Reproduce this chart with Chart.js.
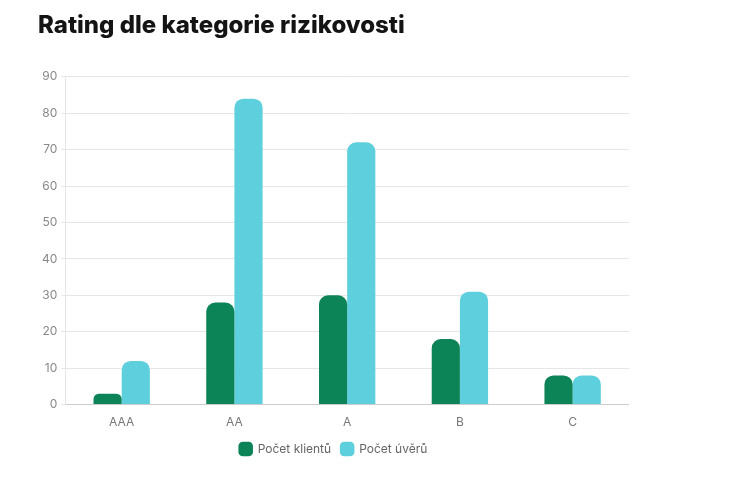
<!DOCTYPE html>
<html>
<head>
<meta charset="utf-8">
<script src="https://cdn.jsdelivr.net/npm/chart.js@4"></script>
<style>
  body { margin: 0; background: #fff; }
  #wrap { position: absolute; left: 30px; top: 4px; width: 599px; height: 472px; }
</style>
</head>
<body>
<div id="wrap"><canvas id="myChart"></canvas></div>
<script>
var categories = ['AAA', 'AA', 'A', 'B', 'C'];
var klienti = [3, 28, 30, 18, 8];
var uvery = [12, 84, 72, 31, 8];
var yTicks = [0, 10, 20, 30, 40, 50, 60, 70, 80, 90];

document.addEventListener('DOMContentLoaded', function () {
    var ctx = document.getElementById('myChart').getContext('2d');
    var myChart = new Chart(ctx, {
        type: 'bar',
        data: {
            labels: categories,
            datasets: [{
                label: 'Počet klientů',
                data: klienti,
                backgroundColor: '#0d8457',
                borderRadius: { topLeft: 9, topRight: 9 },
                borderSkipped: 'bottom'
            }, {
                label: 'Počet úvěrů',
                data: uvery,
                backgroundColor: '#5ecfdc',
                borderRadius: { topLeft: 9, topRight: 9 },
                borderSkipped: 'bottom'
            }]
        },
        options: {
            responsive: true,
            maintainAspectRatio: false,
            animation: false,
            categoryPercentage: 0.5,
            barPercentage: 1.0,
            layout: { padding: { left: 8, right: 0, top: 0, bottom: 11 } },
            plugins: {
                title: {
                    display: true,
                    text: 'Rating dle kategorie rizikovosti',
                    align: 'start',
                    color: '#141414',
                    font: { family: 'Inter', size: 24, weight: 800 },
                    padding: { top: 7, bottom: 37 }
                },
                legend: {
                    position: 'bottom',
                    labels: {
                        usePointStyle: true,
                        pointStyle: 'rectRounded',
                        boxWidth: 14,
                        boxHeight: 14,
                        padding: 10,
                        color: '#666',
                        font: { family: 'Inter', size: 12 }
                    }
                },
                tooltip: { enabled: false }
            },
            scales: {
                x: {
                    grid: { display: false },
                    border: { color: '#cccccc' },
                    ticks: { color: '#777', padding: 3, font: { family: 'Inter', size: 12 } }
                },
                y: {
                    min: 0,
                    max: 90,
                    afterBuildTicks: function (axis) {
                        axis.ticks = yTicks.map(function (v) { return { value: v }; });
                    },
                    grid: { color: '#e6e6e6', tickLength: 4 },
                    border: { color: '#e6e6e6' },
                    ticks: { color: '#888', padding: 4, font: { family: 'Inter', size: 12 } }
                }
            }
        }
    });
});
</script>
</body>
</html>
